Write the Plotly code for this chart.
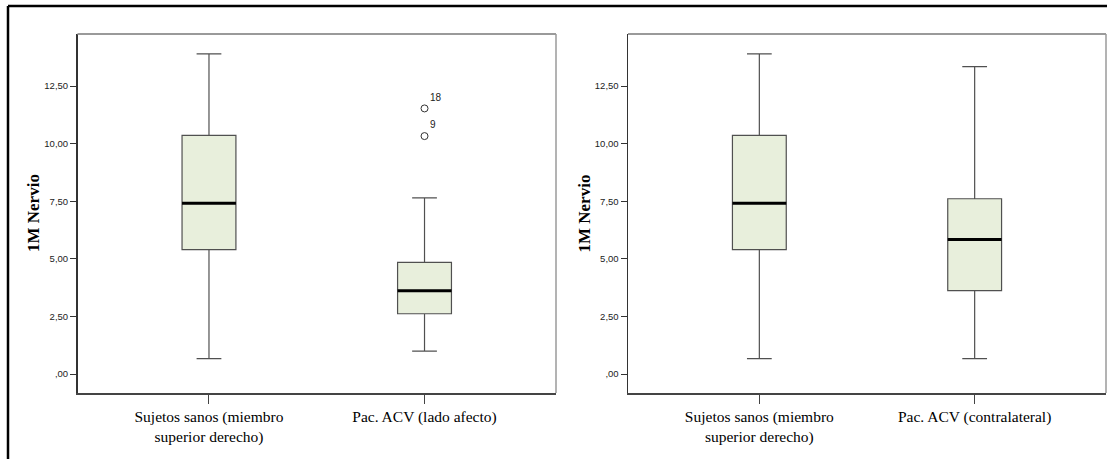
import plotly.graph_objects as go

W, H = 1107, 459

# ---------------- data ----------------
cats_left = ["Sujetos sanos (miembro<br>superior derecho)", "Pac. ACV (lado afecto)"]
cats_right = ["Sujetos sanos (miembro<br>superior derecho)", "Pac. ACV (contralateral)"]

left_q1 = [5.40, 2.62]
left_median = [7.41, 3.62]
left_q3 = [10.36, 4.85]
left_low = [0.67, 1.00]
left_high = [13.90, 7.65]

right_q1 = [5.40, 3.62]
right_median = [7.41, 5.84]
right_q3 = [10.36, 7.61]
right_low = [0.67, 0.67]
right_high = [13.90, 13.34]

outlier_values = [11.53, 10.33]
outlier_labels = ["18", "9"]

tick_vals = [0, 2.5, 5, 7.5, 10, 12.5]
tick_text = [",00", "2,50", "5,00", "7,50", "10,00", "12,50"]

y_title = "1M Nervio"

# ---------------- style ----------------
FILL = "#E8EFDC"
LINE = "#505050"
SERIF = "Liberation Serif, Times New Roman, serif"
SANS = "Liberation Sans, Arial, sans-serif"

fig = go.Figure()


def add_panel(cats, q1, med, q3, lo, hi, xa, ya):
    fig.add_trace(go.Box(
        x=cats, q1=q1, median=med, q3=q3, lowerfence=lo, upperfence=hi,
        fillcolor=FILL, line=dict(color=LINE, width=1.2),
        width=0.25, whiskerwidth=0.46, boxpoints=False,
        xaxis=xa, yaxis=ya, showlegend=False, hoverinfo="skip",
    ))
    # thick black median line
    fig.add_trace(go.Box(
        x=cats, q1=med, median=med, q3=med, lowerfence=med, upperfence=med,
        fillcolor="rgba(0,0,0,0)", line=dict(color="black", width=3),
        width=0.25, whiskerwidth=0, boxpoints=False,
        xaxis=xa, yaxis=ya, showlegend=False, hoverinfo="skip",
    ))


add_panel(cats_left, left_q1, left_median, left_q3, left_low, left_high, "x", "y")
add_panel(cats_right, right_q1, right_median, right_q3, right_low, right_high, "x2", "y2")

fig.add_trace(go.Scatter(
    x=[cats_left[1]] * len(outlier_values), y=outlier_values,
    mode="markers+text", text=outlier_labels, textposition="top right",
    textfont=dict(family=SANS, size=10, color="#222"),
    marker=dict(symbol="circle-open", size=7, color="#333", line=dict(width=1)),
    xaxis="x", yaxis="y", showlegend=False, hoverinfo="skip", cliponaxis=False,
))

px = lambda v: v / W
py = lambda v: 1 - v / H

y_dom = [py(393), py(34)]
x1_dom = [px(77.5), px(556)]
x2_dom = [px(628), px(1106)]

yaxis_common = dict(
    range=[-0.82, 14.76], tickvals=tick_vals, ticktext=tick_text,
    ticks="outside", ticklen=6, tickcolor="#333", tickwidth=1,
    tickfont=dict(family=SANS, size=9.5, color="#222"),
    showgrid=False, zeroline=False, showline=True, linecolor="#333", linewidth=1.5,
    domain=y_dom, fixedrange=True,
)
xaxis_common = dict(
    range=[-0.61, 1.61], type="category",
    ticks="outside", ticklen=9, tickcolor="#444", tickwidth=1,
    tickfont=dict(family=SERIF, size=15.5, color="black"),
    showgrid=False, zeroline=False, showline=True, linecolor="#444", linewidth=1.5,
    fixedrange=True,
)

fig.update_layout(
    width=W, height=H,
    margin=dict(l=0, r=0, t=0, b=0),
    paper_bgcolor="white", plot_bgcolor="white",
    xaxis=dict(xaxis_common, domain=x1_dom, anchor="y"),
    yaxis=dict(yaxis_common, anchor="x"),
    xaxis2=dict(xaxis_common, domain=x2_dom, anchor="y2"),
    yaxis2=dict(yaxis_common, anchor="x2"),
)

# top/right frame lines of each plot area (lighter grey)
for dom in (x1_dom, x2_dom):
    fig.add_shape(type="line", xref="paper", yref="paper",
                  x0=dom[0], x1=dom[1], y0=y_dom[1], y1=y_dom[1],
                  line=dict(color="#9a9a9a", width=2))
    fig.add_shape(type="line", xref="paper", yref="paper",
                  x0=dom[1], x1=dom[1], y0=y_dom[0], y1=y_dom[1],
                  line=dict(color="#9a9a9a", width=1.5))
    fig.add_annotation(
        text="<b>" + y_title + "</b>", xref="paper", yref="paper",
        x=dom[0] - px(44), y=(y_dom[0] + y_dom[1]) / 2,
        textangle=-90, showarrow=False, xanchor="center", yanchor="middle",
        font=dict(family=SERIF, size=17, color="black"),
    )

# outer black frame (top and left)
fig.add_shape(type="line", xref="paper", yref="paper",
              x0=px(8), x1=1, y0=py(6), y1=py(6), line=dict(color="black", width=2.5))
fig.add_shape(type="line", xref="paper", yref="paper",
              x0=px(8), x1=px(8), y0=0, y1=py(6), line=dict(color="black", width=2.5))

fig.write_html(
    "out.html",
    config={"displayModeBar": False, "staticPlot": True},
    post_script="document.body.style.margin='0';document.body.style.overflow='hidden';",
)
